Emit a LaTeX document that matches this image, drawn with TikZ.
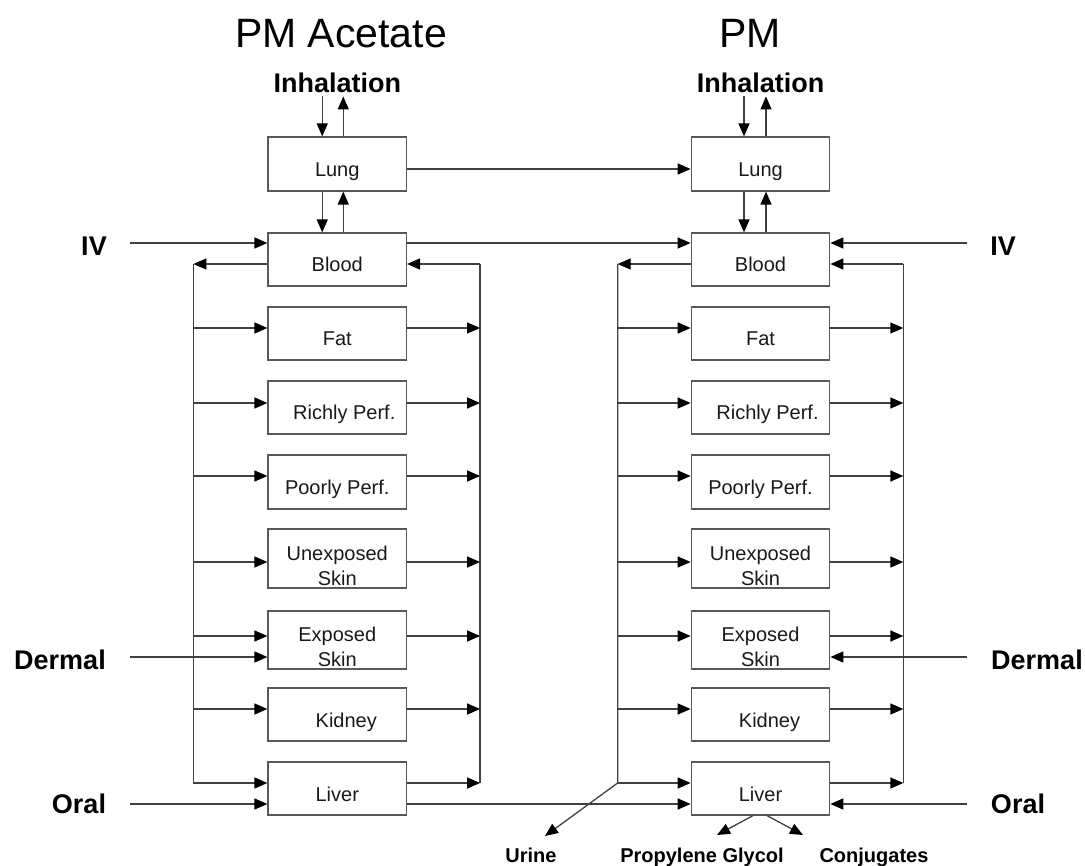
\documentclass[tikz,border=0pt]{standalone}
\usepackage{fontspec}
\setmainfont{Liberation Sans}
\usetikzlibrary{arrows.meta}
\begin{document}
\begin{tikzpicture}[x=1pt,y=-1pt,
  ln/.style={draw=black!75, line width=1.3pt},
  arr/.style={ln, -{Triangle[length=13pt,width=11pt,color=black]}},
  box/.style={draw=black!65, line width=1.2pt, rectangle, minimum width=138.5pt, inner sep=0pt,
    font=\fontsize{20}{25}\selectfont, text=black!90, text height=25pt, text depth=0pt},
  box2/.style={box, text height=53.5pt},
  ttl/.style={font=\fontsize{41}{49}\selectfont, anchor=base, inner sep=0pt},
  lbl/.style={font=\fontsize{27}{32}\selectfont\bfseries, anchor=base, inner sep=3pt},
  outl/.style={font=\fontsize{20}{24}\selectfont\bfseries, anchor=base, inner sep=0pt}]
\useasboundingbox (0,0) rectangle (1085,866);

% titles and labels
\node[ttl] (tA) at (341,48) {PM Acetate};
\node[ttl] (tB) at (750,48) {PM};
\node[lbl] (Ainh) at (337.25,93) {Inhalation};
\node[lbl] (Binh) at (760.5,93) {Inhalation};
\node[lbl] (Aiv) at (94,256) {IV};
\node[lbl] (Biv) at (1003,256) {IV};
\node[lbl] (Aderm) at (60,669) {Dermal};
\node[lbl] (Bderm) at (1037,669) {Dermal};
\node[lbl] (Aoral) at (79,813) {Oral};
\node[lbl] (Boral) at (1018,813) {Oral};
\node[outl] (urine) at (531,862) {Urine};
\node[outl] (pg) at (702,862) {Propylene Glycol};
\node[outl] (conj) at (874,862) {Conjugates};

% compartments
\foreach \m/\xc in {A/337.25, B/760.5} {
  \node[box, minimum height=54pt] (\m lung) at (\xc,164) {Lung};
  \node[box, minimum height=53pt] (\m blood) at (\xc,259.5) {Blood};
  \node[box, minimum height=53pt] (\m fat) at (\xc,333.5) {Fat};
  \node[box, minimum height=53pt] (\m rich) at (\xc,407.5) {\hspace*{14pt}Richly Perf.};
  \node[box, minimum height=54pt] (\m poor) at (\xc,482) {Poorly Perf.};
  \node[box2, minimum height=59pt] (\m unex) at (\xc,558.5) {\begin{tabular}[b]{@{}c@{}}Unexposed\\Skin\end{tabular}};
  \node[box2, minimum height=58pt] (\m exp) at (\xc,640) {\begin{tabular}[b]{@{}c@{}}Exposed\\Skin\end{tabular}};
  \node[box, minimum height=53pt] (\m kid) at (\xc,714.5) {\hspace*{18pt}Kidney};
  \node[box, minimum height=53pt] (\m liv) at (\xc,788.5) {Liver};
}

% free ends
\coordinate (ivAs) at (130,243);
\coordinate (dermAs) at (130,657);
\coordinate (oralAs) at (130,804);
\coordinate (ivBs) at (967,243);
\coordinate (dermBs) at (967,657);
\coordinate (oralBs) at (967,804);
\coordinate (urineTip) at (545,836);
\coordinate (pgTip) at (717,835);
\coordinate (conjTip) at (803,835);

% inhalation / lung / blood
\draw[arr] ([xshift=-15pt]Ainh.south) -- ([xshift=-15pt]Alung.north);
\draw[arr] ([xshift=6pt]Alung.north) -- ([xshift=6pt]Ainh.south);
\draw[arr] ([xshift=-15pt]Alung.south) -- ([xshift=-15pt]Ablood.north);
\draw[arr] ([xshift=6pt]Ablood.north) -- ([xshift=6pt]Alung.south);
\draw[arr] ([xshift=-16.5pt]Binh.south) -- ([xshift=-16.5pt]Blung.north);
\draw[arr] ([xshift=5.5pt]Blung.north) -- ([xshift=5.5pt]Binh.south);
\draw[arr] ([xshift=-16.5pt]Blung.south) -- ([xshift=-16.5pt]Bblood.north);
\draw[arr] ([xshift=5.5pt]Bblood.north) -- ([xshift=5.5pt]Blung.south);

% cross links
\draw[arr] ([yshift=-5pt]Alung.east) -- ([yshift=-5pt]Blung.west);
\draw[arr] ([yshift=16.5pt]Ablood.east) -- ([yshift=16.5pt]Bblood.west);
\draw[arr] ([yshift=-15.5pt]Aliv.east) -- ([yshift=-15.5pt]Bliv.west);

% inputs
\draw[arr] (ivAs) -- ([yshift=16.5pt]Ablood.west);
\draw[arr] (dermAs) -- ([yshift=-17pt]Aexp.west);
\draw[arr] (oralAs) -- ([yshift=-15.5pt]Aliv.west);
\draw[arr] (ivBs) -- ([yshift=16.5pt]Bblood.east);
\draw[arr] (dermBs) -- ([yshift=-17pt]Bexp.east);
\draw[arr] (oralBs) -- ([yshift=-15.5pt]Bliv.east);

% buses
\draw[arr] ([yshift=-4.5pt]Ablood.west) -- ([xshift=-74pt,yshift=-4.5pt]Ablood.west);
\draw[ln] ([xshift=-74pt,yshift=-4.5pt]Ablood.west) -- ([xshift=-74pt,yshift=5.5pt]Aliv.west);
\draw[ln] ([xshift=73pt,yshift=5.5pt]Aliv.east) -- ([xshift=73pt,yshift=-4.5pt]Ablood.east);
\draw[arr] ([xshift=73pt,yshift=-4.5pt]Ablood.east) -- ([yshift=-4.5pt]Ablood.east);

\draw[arr] ([yshift=-4.5pt]Bblood.west) -- ([xshift=-73pt,yshift=-4.5pt]Bblood.west);
\draw[arr] ([xshift=-73pt,yshift=-4.5pt]Bblood.west) -- ([xshift=-73pt,yshift=5.5pt]Bliv.west) -- (urineTip);
\draw[ln] ([xshift=73pt,yshift=5.5pt]Bliv.east) -- ([xshift=73pt,yshift=-4.5pt]Bblood.east);
\draw[arr] ([xshift=73pt,yshift=-4.5pt]Bblood.east) -- ([yshift=-4.5pt]Bblood.east);

\foreach \nm/\s in {fat/5.5, rich/4.5, poor/6, unex/-3.5, exp/4, kid/5.5, liv/5.5} {
  \draw[arr] ([xshift=-74pt,yshift=\s pt]A\nm.west) -- ([yshift=\s pt]A\nm.west);
  \draw[arr] ([yshift=\s pt]A\nm.east) -- ([xshift=73pt,yshift=\s pt]A\nm.east);
  \draw[arr] ([xshift=-73pt,yshift=\s pt]B\nm.west) -- ([yshift=\s pt]B\nm.west);
  \draw[arr] ([yshift=\s pt]B\nm.east) -- ([xshift=73pt,yshift=\s pt]B\nm.east);
}

% metabolism outputs
\draw[arr] ([xshift=-7.5pt]Bliv.south) -- (pgTip);
\draw[arr] ([xshift=6.5pt]Bliv.south) -- (conjTip);
\end{tikzpicture}
\end{document}
